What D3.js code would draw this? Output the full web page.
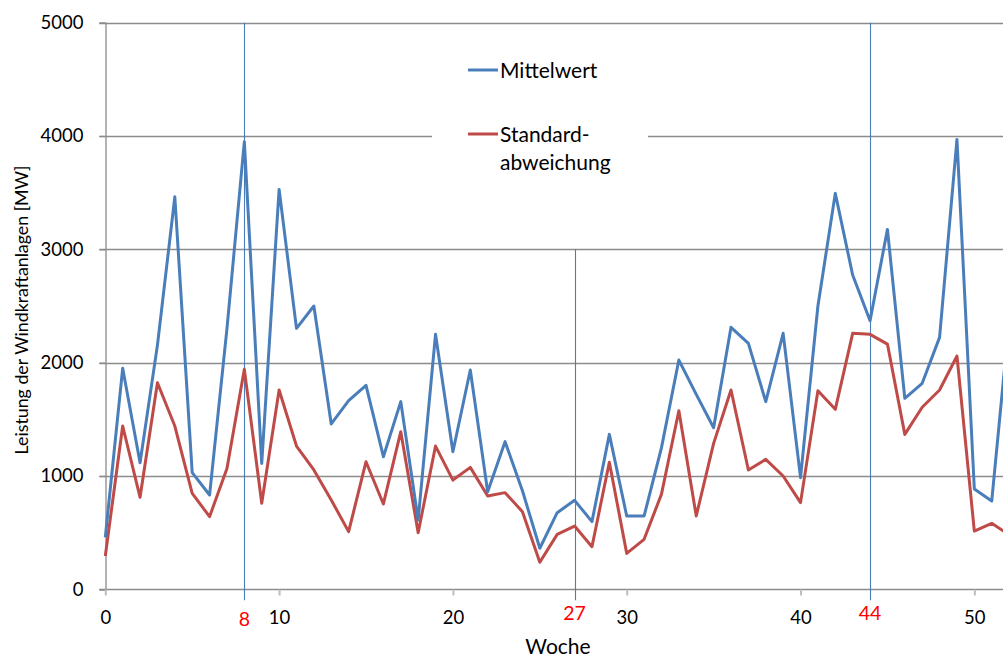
<!DOCTYPE html>
<html>
<head>
<meta charset="utf-8">
<script src="https://cdn.jsdelivr.net/npm/d3@7"></script>
<style>
  html, body { margin: 0; padding: 0; background: #fff; }
  svg { display: block; font-family: Lato, "Open Sans", sans-serif; }
</style>
</head>
<body>
<svg id="chart" width="1003" height="659"></svg>
<script>
// Weekly wind power output: mean and standard deviation per week [MW]
const weeks = d3.range(0, 53);
const mittelwert = [459,1950,1117,2155,3464,1029,832,2300,3950,1111,3529,2303,2500,1459,1665,1800,1170,1656,611,2250,1214,1935,861,1303,870,362,676,785,597,1367,647,647,1250,2023,1720,1426,2312,2170,1656,2259,985,2500,3494,2773,2370,3176,1685,1818,2223,3970,885,779,2369];
const standardabweichung = [294,1441,812,1823,1441,847,641,1067,1941,759,1759,1264,1053,788,509,1126,753,1391,500,1264,964,1076,823,853,685,238,485,558,376,1121,317,441,840,1576,647,1288,1759,1053,1147,1000,765,1753,1588,2259,2250,2164,1367,1606,1759,2059,514,582,481];
const xTicks = [0, 10, 20, 30, 40, 50];
const yTicks = [0, 1000, 2000, 3000, 4000, 5000];
// highlighted weeks and the value where each marker line starts
const markerWeeks = [8, 27, 44];
const markerTops = [5000, 3000, 5000];

const svg = d3.select("#chart");
const x = d3.scaleLinear().domain([0, 52]).range([105.3, 1009.1]);
const y = d3.scaleLinear().domain([0, 5000]).range([589.3, 22.7]);

const gridColor = "#8c8c8c";

// horizontal gridlines
svg.append("g").selectAll("line").data(yTicks.slice(1)).join("line")
  .attr("x1", x(0) - 6).attr("x2", 1003)
  .attr("y1", d => Math.round(y(d)) + 0.5).attr("y2", d => Math.round(y(d)) + 0.5)
  .attr("stroke", gridColor).attr("stroke-width", 1.3);

// y axis
const yAxis = svg.append("g").attr("transform", `translate(${Math.round(x(0)) + 0.5},0)`)
  .call(d3.axisLeft(y).tickValues(yTicks).tickSize(6).tickPadding(16).tickFormat(d3.format("d")));
yAxis.select(".domain").attr("stroke", gridColor).attr("stroke-width", 1.3);
yAxis.selectAll(".tick line").attr("stroke", gridColor).attr("stroke-width", 1.3);
yAxis.selectAll(".tick text").attr("font-size", 18.5).attr("fill", "#000").attr("font-family", "Lato");

// x axis
const xAxis = svg.append("g").attr("transform", `translate(0,${Math.round(y(0)) + 0.5})`)
  .call(d3.axisBottom(x).tickValues(xTicks).tickSize(6).tickPadding(15).tickFormat(d3.format("d")));
xAxis.select(".domain").attr("d", `M${x(0) - 6},0H1003`).attr("stroke", gridColor).attr("stroke-width", 1.3);
xAxis.selectAll(".tick line").attr("stroke", "#bdbdbd").attr("stroke-width", 2);
xAxis.selectAll(".tick text").attr("font-size", 18.5).attr("fill", "#000").attr("font-family", "Lato");

// marker lines for highlighted weeks
svg.append("g").selectAll("line").data(markerWeeks).join("line")
  .attr("x1", d => Math.round(x(d)) + 0.5).attr("x2", d => Math.round(x(d)) + 0.5)
  .attr("y1", (d, i) => y(markerTops[i])).attr("y2", y(0) + 11)
  .attr("stroke", "#4a7ebb").attr("stroke-width", 1.1);

svg.append("g").selectAll("text").data(markerWeeks).join("text")
  .attr("x", d => x(d)).attr("y", (d, i) => i === 0 ? 626 : 620)
  .attr("text-anchor", "middle").attr("font-size", 19.5).attr("fill", "#ff0000")
  .text(d => d);

// legend background covers the gridline behind it
svg.append("rect").attr("x", 432).attr("y", 42).attr("width", 216).attr("height", 148).attr("fill", "#fff");

const line = d3.line().x((d, i) => x(weeks[i])).y(d => y(d));

svg.append("path").datum(standardabweichung)
  .attr("d", line).attr("fill", "none").attr("stroke", "#be4b48")
  .attr("stroke-width", 3).attr("stroke-linejoin", "round");
svg.append("path").datum(mittelwert)
  .attr("d", line).attr("fill", "none").attr("stroke", "#4a7ebb")
  .attr("stroke-width", 3).attr("stroke-linejoin", "round");

// legend
const legend = svg.append("g").attr("font-size", 21).attr("fill", "#000");
legend.append("line").attr("x1", 468).attr("x2", 498).attr("y1", 70).attr("y2", 70)
  .attr("stroke", "#4a7ebb").attr("stroke-width", 3);
legend.append("text").attr("x", 500).attr("y", 78).text("Mittelwert");
legend.append("line").attr("x1", 468).attr("x2", 498).attr("y1", 134).attr("y2", 134)
  .attr("stroke", "#be4b48").attr("stroke-width", 3);
legend.append("text").attr("x", 500).attr("y", 142).text("Standard-");
legend.append("text").attr("x", 500).attr("y", 170).text("abweichung");

// axis titles
svg.append("text").attr("x", 558).attr("y", 654).attr("text-anchor", "middle")
  .attr("font-size", 21).text("Woche");
svg.append("text").attr("transform", "translate(28,310) rotate(-90)").attr("text-anchor", "middle")
  .attr("font-size", 17.8).text("Leistung der Windkraftanlagen [MW]");
</script>
</body>
</html>
